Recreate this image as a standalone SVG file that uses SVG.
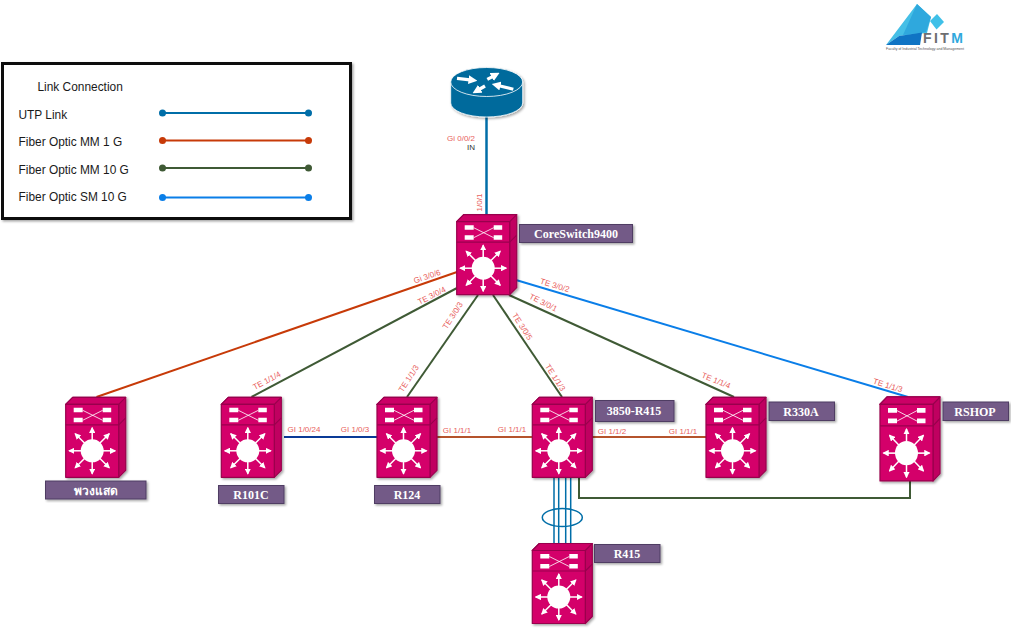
<svg xmlns="http://www.w3.org/2000/svg" width="1011" height="629" viewBox="0 0 1011 629">
<style>
.port{font:8px "Liberation Sans",Arial,sans-serif;fill:#e8605c;text-anchor:middle}
.leg{font:11.900px "Liberation Sans",Arial,sans-serif;fill:#1a1a1a}
.name{font:bold 12px "Liberation Serif","Noto Sans",serif;fill:#fff;text-anchor:middle}
.tag{fill:#735a87;stroke:#4f3c63;stroke-width:1;filter:url(#sh)}
.l{fill:none;stroke-width:2}
.utp{stroke:#006ea8}.mm1{stroke:#c73a08}.mm10{stroke:#3f5a35}.sm{stroke:#0a7ee8}
.brown{stroke:#b5532c}
.sw{stroke:#99004d;stroke-width:1.200;stroke-linejoin:round}
.wa{stroke:#fff;stroke-width:1.500;fill:none}
.ra{stroke:#fff;stroke-width:3.200;fill:none}
</style>
<defs>
<filter id="sh" x="-10%" y="-10%" width="125%" height="130%"><feDropShadow dx="1.500" dy="1.500" stdDeviation="0.800" flood-color="#000" flood-opacity="0.350"/></filter>
<marker id="ah" viewBox="0 0 6 6" refX="5" refY="3" markerWidth="4.200" markerHeight="4.200" orient="auto" markerUnits="strokeWidth"><path d="M0 0L6 3L0 6z" fill="#fff"/></marker>
<marker id="rh" viewBox="0 0 6 6" refX="1" refY="3" markerWidth="2.800" markerHeight="2.800" orient="auto" markerUnits="strokeWidth"><path d="M0 0L6 3L0 6z" fill="#fff"/></marker>
<g id="switch" filter="url(#sh)">
<path class="sw" d="M0 0L7 -7H60V66L53 73V0z" fill="#c00060"/>
<path class="sw" d="M0 0L7 -7H60L53 0z" fill="#cc0066"/>
<rect class="sw" x="0" y="0" width="53" height="73" fill="#d4006a"/>
<path class="sw" d="M0 20.500H53L60 13.500" fill="none"/>
<path d="M17 6L37 16M17 16L37 6" stroke="#fff" stroke-width="0.800" fill="none"/>
<path d="M8 3.500H17V8H8zM8 13.500H17V18H8zM37 3.500H45.500V8H37zM37 13.500H45.500V18H37z" fill="#fff"/>
<circle cx="26.500" cy="46.500" r="11.500" fill="#fff"/>
<g class="wa">
<path d="M26.500 36V23.500" marker-end="url(#ah)"/><path d="M26.500 57V69.500" marker-end="url(#ah)"/>
<path d="M16 46.500H3.500" marker-end="url(#ah)"/><path d="M37 46.500H49.500" marker-end="url(#ah)"/>
<path d="M19 39L9.500 29.500" marker-end="url(#ah)"/><path d="M34 39L43.500 29.500" marker-end="url(#ah)"/>
<path d="M19 54L9.500 63.500" marker-end="url(#ah)"/><path d="M34 54L43.500 63.500" marker-end="url(#ah)"/>
</g>
</g>
</defs>

<rect width="1011" height="629" fill="#fff"/>

<g id="logo">
<path d="M917 4L931 17L927 33L899 36L886 45z" fill="#45bfe6"/>
<path d="M917 4L931 17L926 32L903 35z" fill="#2fa8dd"/>
<path d="M899 36L922 32.500L920 45H886z" fill="#0f74c4"/>
<path d="M937 14L944 22L936.500 29.500L930 21z" fill="#3fc0e8"/>
<text x="923" y="43" font-family="Liberation Sans,Arial,sans-serif" font-size="14" font-weight="bold" fill="#6d6e71" textLength="40" lengthAdjust="spacing">FIT<tspan fill="#2fa8dd">M</tspan></text>
<text x="886" y="50" font-family="Liberation Sans,Arial,sans-serif" font-size="3.500" fill="#555" textLength="78" lengthAdjust="spacingAndGlyphs">Faculty of Industrial Technology and Management</text>
</g>

<g id="legend">
<rect x="2.500" y="63.500" width="348" height="155" fill="#fff" stroke="#111" stroke-width="3" filter="url(#sh)"/>
<text class="leg" x="37.500" y="91">Link Connection</text>
<text class="leg" x="18.500" y="118.500">UTP Link</text>
<text class="leg" x="18.500" y="146">Fiber Optic MM 1 G</text>
<text class="leg" x="18.500" y="173.500">Fiber Optic MM 10 G</text>
<text class="leg" x="18.500" y="201">Fiber Optic SM 10 G</text>
<g fill="#006ea8"><path class="l utp" d="M162.500 113H308.500"/><circle cx="162.500" cy="113" r="3.500"/><circle cx="308.500" cy="113" r="3.500"/></g>
<g fill="#c73a08"><path class="l mm1" d="M162.500 140.500H308.500"/><circle cx="162.500" cy="140.500" r="3.500"/><circle cx="308.500" cy="140.500" r="3.500"/></g>
<g fill="#3f5a35"><path class="l mm10" d="M162.500 168H308.500"/><circle cx="162.500" cy="168" r="3.500"/><circle cx="308.500" cy="168" r="3.500"/></g>
<g fill="#0a7ee8"><path class="l sm" d="M162.500 197.500H308.500"/><circle cx="162.500" cy="197.500" r="3.500"/><circle cx="308.500" cy="197.500" r="3.500"/></g>
</g>

<g id="connectors">
<path class="l utp" style="stroke-width:2.500" d="M486.500 116V215"/>
<path class="l mm1" d="M96.500 397L457 272"/>
<path class="l mm10" d="M251.500 397L457 288"/>
<path class="l mm10" d="M407 397L478 295"/>
<path class="l mm10" d="M562 397L493 295"/>
<path class="l mm10" d="M734 397L509 295"/>
<path class="l sm" d="M516 280L908 397"/>
<path class="l" stroke="#0a3a96" d="M284 437H377"/>
<path class="l brown" d="M437 437H532"/>
<path class="l brown" d="M592 437H706"/>
<path class="l mm10" d="M579 477V498H910V481"/>
<path class="l utp" style="stroke-width:1.500" d="M554 477V544M558.700 477V544M565.700 477V544M570.700 477V544"/>
<ellipse cx="562.300" cy="517.500" rx="20" ry="9" fill="none" stroke="#006ea8" stroke-width="1.500"/>
</g>

<g id="router">
<g filter="url(#sh)">
<path d="M450.700 82V103A36 14 0 0 0 522.700 103V82z" fill="#006a9c" stroke="#fff" stroke-width="0.800"/>
<ellipse cx="486.700" cy="82" rx="36" ry="14.500" fill="#006a9c" stroke="#fff" stroke-width="0.800"/>
</g>
<g class="ra">
<path d="M457 78.300L470 79.800" marker-end="url(#rh)"/>
<path d="M487.300 79.300L493 76.300" marker-end="url(#rh)"/>
<path d="M513.300 89.300L499 85.700" marker-end="url(#rh)"/>
<path d="M485 86L479 89.500" marker-end="url(#rh)"/>
</g>
</g>

<g id="n-core"><use href="#switch" transform="translate(456.700 221.700)"/>
<rect class="tag" x="519.500" y="224.500" width="113" height="18"/><text class="name" x="576" y="238">CoreSwitch9400</text></g>
<g id="n-puangsad"><use href="#switch" transform="translate(65.700 404.300)"/>
<rect class="tag" x="45.500" y="481" width="100.500" height="18"/><text class="name" x="95.500" y="494.500">พวงแสด</text></g>
<g id="n-r101c"><use href="#switch" transform="translate(221.300 404.300)"/>
<rect class="tag" x="218.500" y="485.500" width="65.500" height="18"/><text class="name" x="251" y="499">R101C</text></g>
<g id="n-r124"><use href="#switch" transform="translate(377 404.300)"/>
<rect class="tag" x="374.500" y="485.500" width="65.500" height="18"/><text class="name" x="407" y="499">R124</text></g>
<g id="n-3850"><use href="#switch" transform="translate(532.300 404.300)"/>
<rect class="tag" x="595.500" y="400.500" width="78.500" height="21"/><text class="name" x="634" y="415">3850-R415</text></g>
<g id="n-r415"><use href="#switch" transform="translate(532.300 550.500)"/>
<rect class="tag" x="594.500" y="544.500" width="65.500" height="18"/><text class="name" x="627" y="558">R415</text></g>
<g id="n-r330a"><use href="#switch" transform="translate(706 404.300)"/>
<rect class="tag" x="769" y="402" width="65.500" height="18.500"/><text class="name" x="801" y="415.500">R330A</text></g>
<g id="n-rshop"><use href="#switch" transform="translate(880 404.300) scale(1 1.050)"/>
<rect class="tag" x="943" y="402" width="65.500" height="18.500"/><text class="name" x="975" y="415.500">RSHOP</text></g>

<g id="port-labels">
<text class="port" x="461" y="140.500">Gi 0/0/2</text>
<text x="471" y="149.500" font-family="Liberation Sans,Arial,sans-serif" font-size="8" fill="#333" text-anchor="middle">IN</text>
<text class="port" transform="translate(482 202.500) rotate(-90)">1/0/1</text>
<text class="port" transform="translate(428 279) rotate(-19)">Gi 3/0/6</text>
<text class="port" transform="translate(433 298) rotate(-27)">TE 3/0/4</text>
<text class="port" transform="translate(455 317) rotate(-57)">TE 3/0/3</text>
<text class="port" transform="translate(520 328) rotate(57)">TE 3/0/5</text>
<text class="port" transform="translate(542 305) rotate(27)">TE 3/0/1</text>
<text class="port" transform="translate(554 288) rotate(17)">TE 3/0/2</text>
<text class="port" transform="translate(268 383) rotate(-28)">TE 1/1/4</text>
<text class="port" transform="translate(411 380) rotate(-57)">TE 1/1/3</text>
<text class="port" transform="translate(553 379) rotate(57)">TE 1/1/3</text>
<text class="port" transform="translate(715 383) rotate(22)">TE 1/1/4</text>
<text class="port" transform="translate(887 388) rotate(17)">TE 1/1/3</text>
<text class="port" x="304" y="432">GI 1/0/24</text>
<text class="port" x="355" y="432">GI 1/0/3</text>
<text class="port" x="457" y="433">GI 1/1/1</text>
<text class="port" x="512" y="432">GI 1/1/1</text>
<text class="port" x="612" y="434">GI 1/1/2</text>
<text class="port" x="683" y="434">GI 1/1/1</text>
</g>
</svg>
